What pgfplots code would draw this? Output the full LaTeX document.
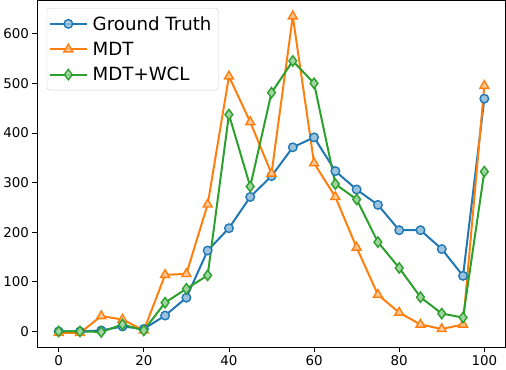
\documentclass[border=0pt]{standalone}
\usepackage{fontspec}
\setmainfont{DejaVu Sans}
\usepackage{pgfplots}
\pgfplotsset{compat=1.18}

\definecolor{c0}{HTML}{1F77B4}
\definecolor{c1}{HTML}{FF7F0E}
\definecolor{c2}{HTML}{2CA02C}

\pgfplotstableread{
x   gt   mdt  wcl
0   0    -3   0
5   0    -3   0
10  2    31   -1
15  10   24   14
20  5    2    2
25  32   114  58
30  68   116  86
35  163  256  113
40  208  514  437
45  271  422  292
50  313  318  481
55  371  635  545
60  391  339  500
65  323  271  297
70  286  169  266
75  255  74   180
80  204  38   128
85  204  14   69
90  166  5    36
95  112  14   28
100 469  495  322
}\datatable

\begin{document}
\begin{tikzpicture}
\begin{axis}[
    width=471pt, height=349pt,
    scale only axis,
    xmin=-5, xmax=105,
    ymin=-32, ymax=667,
    xtick={0,20,...,100},
    ytick={0,100,...,600},
    tick align=outside,
    xtick pos=left, ytick pos=left,
    major tick length=5pt,
    tick style={black, line width=0.8pt},
    axis line style={line width=0.8pt},
    ticklabel style={font=\fontsize{13.5}{15}\selectfont},
    /pgf/number format/assume math mode=true,
    legend style={
        at={(0.02,0.978)}, anchor=north west,
        draw=black!20, rounded corners=3pt,
        fill=white, fill opacity=0.8, text opacity=1,
        font=\fontsize{18.3}{21}\selectfont,
        inner xsep=2pt, inner ysep=6pt,
        row sep=6.5pt,
        nodes={inner xsep=5pt},
    },
    legend cell align=left,
    legend image code/.code={
        \draw[line width=2pt, mark repeat=2, mark phase=2] plot coordinates {(0cm,0cm) (0.65cm,0cm) (1.3cm,0cm)};
    },
]
\addplot[c0, line width=2pt, mark=*, mark size=4.3pt,
    mark options={fill=c0!45, draw=c0, line width=1.4pt}] table[x=x, y=gt] {\datatable};
\addplot[c1, line width=2pt, mark=triangle*, mark size=5.2pt,
    mark options={fill=c1!45, draw=c1, line width=1.4pt}] table[x=x, y=mdt] {\datatable};
\addplot[c2, line width=2pt, mark=diamond*, mark size=5.2pt,
    mark options={fill=c2!45, draw=c2, line width=1.4pt}] table[x=x, y=wcl] {\datatable};
\legend{Ground Truth, MDT, MDT+WCL}
\end{axis}
\end{tikzpicture}
\end{document}
